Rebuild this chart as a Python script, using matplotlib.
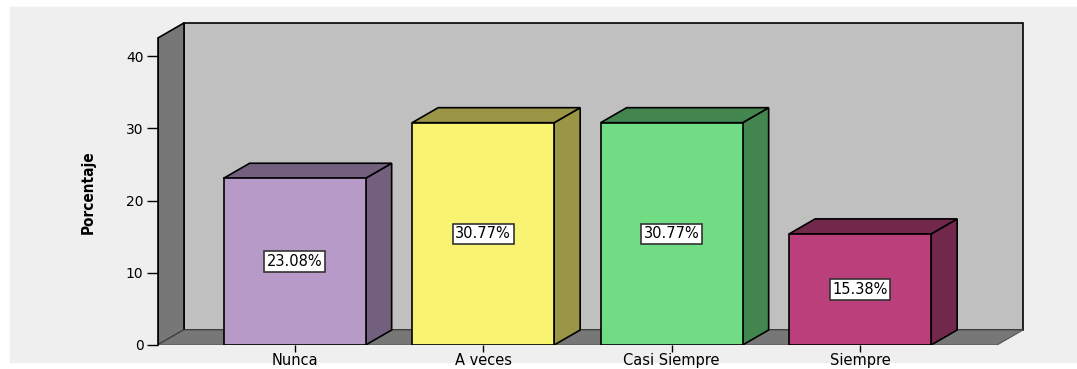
import matplotlib
matplotlib.use("Agg")

import matplotlib.pyplot as plt
from matplotlib.patches import Polygon, Rectangle

categories = ["Nunca", "A veces", "Casi Siempre", "Siempre"]
values = [23.08, 30.77, 30.77, 15.38]
front_colors = ["#b89ac8", "#f8f472", "#70dd84", "#ba3f7a"]
side_colors = ["#735f7e", "#9a9645", "#438650", "#72284b"]

W, H = 1077, 369
# pixel layout: y=0 at 345px, 7.225 px per unit; 188.5 px per category
PX_X, PX_Y = 188.5, 7.225
X0_PX, Y0_PX = 158, 345
XL, XR = -0.725, 3.726
YTOP = 42.5
DX, DY = 26 / PX_X, 15 / PX_Y
BAR_W = 142 / PX_X


def main():
    fig = plt.figure(figsize=(W / 100, H / 100), dpi=100, facecolor="white")
    fig.patches.append(Rectangle((10 / W, 1 - 362 / H), 1067 / W, 355 / H,
                                 transform=fig.transFigure, color="#efefef", zorder=-1))

    right_px = 1035
    top_px = 18
    ax = fig.add_axes([X0_PX / W, (H - Y0_PX) / H, (right_px - X0_PX) / W, (Y0_PX - top_px) / H])
    ax.set_facecolor("none")
    ax.set_xlim(XL, XL + (right_px - X0_PX) / PX_X)
    ax.set_ylim(0, (Y0_PX - top_px) / PX_Y)

    # walls
    ax.add_patch(Rectangle((XL + DX, DY), XR - XL, YTOP, facecolor="#c0c0c0",
                           edgecolor="black", lw=1.2, zorder=1))
    ax.add_patch(Polygon([(XL, 0), (XL + DX, DY), (XL + DX, YTOP + DY), (XL, YTOP)],
                         facecolor="#777777", edgecolor="black", lw=1.2, zorder=1))
    ax.add_patch(Polygon([(XL, 0), (XR, 0), (XR + DX, DY), (XL + DX, DY)],
                         facecolor="#777777", edgecolor="#555555", lw=0.8, zorder=1))

    for i, (v, fc, sc) in enumerate(zip(values, front_colors, side_colors)):
        x0, x1 = i - BAR_W / 2, i + BAR_W / 2
        ax.add_patch(Polygon([(x1, 0), (x1 + DX, DY), (x1 + DX, v + DY), (x1, v)],
                             facecolor=sc, edgecolor="black", lw=1.2, zorder=2))
        ax.add_patch(Polygon([(x0, v), (x1, v), (x1 + DX, v + DY), (x0 + DX, v + DY)],
                             facecolor=sc, edgecolor="black", lw=1.2, zorder=2))
        ax.add_patch(Rectangle((x0, 0), BAR_W, v, facecolor=fc,
                               edgecolor="black", lw=1.2, zorder=3))
        ax.text(i, v / 2, f"{v:.2f}%", ha="center", va="center", fontsize=10.5,
                color="black", zorder=4,
                bbox=dict(boxstyle="square,pad=0.18", facecolor="white",
                          edgecolor="#333333", lw=1.2))

    for s in ["top", "right", "bottom"]:
        ax.spines[s].set_visible(False)
    ax.spines["left"].set_bounds(0, YTOP)
    ax.spines["left"].set_linewidth(1.2)
    ax.spines["left"].set_zorder(5)

    ax.set_yticks([0, 10, 20, 30, 40])
    ax.tick_params(axis="y", length=8, width=1, pad=2.5, labelsize=10)
    ax.set_xticks(range(len(categories)))
    ax.set_xticklabels(categories)
    ax.tick_params(axis="x", length=5, width=1, pad=0.5, labelsize=10.5)

    fig.text(88 / W, 1 - 192 / H, "Porcentaje", rotation=90, ha="center", va="center",
             fontsize=11, fontweight="bold", fontstretch="condensed",
             family="DejaVu Sans")

    fig.savefig("out.png", dpi=100)
    plt.close(fig)


if __name__ == "__main__":
    main()
